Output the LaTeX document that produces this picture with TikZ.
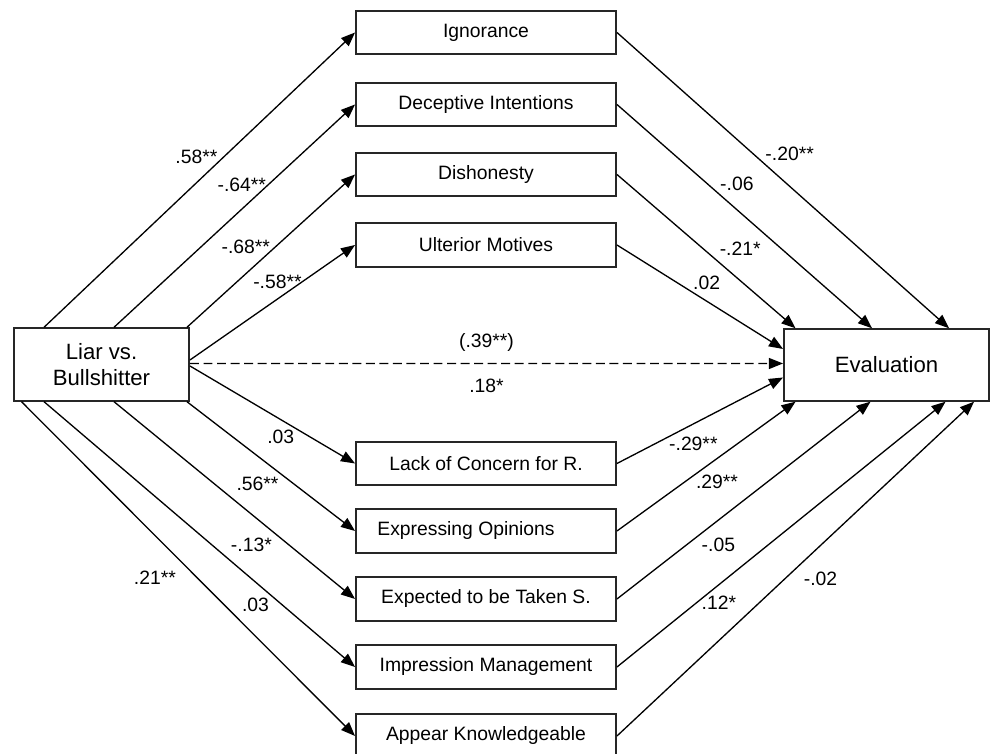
\documentclass[tikz,border=0pt]{standalone}
\usepackage{fontspec}
\setmainfont{Liberation Sans}
\usetikzlibrary{arrows.meta, positioning, calc}

\tikzset{
  var/.style={draw=black!85, line width=1.1pt, minimum width=5.2cm, minimum height=0.87cm, inner sep=2pt},
  endvar/.style={var, font=\fontsize{12.6}{14.6}\selectfont},
  effect/.style={draw=black, line width=0.75pt, -{Triangle[length=8pt,width=6.2pt]}},
  coef/.style={inner sep=0pt}
}

\begin{document}
\begin{tikzpicture}[font=\fontsize{11}{14.6}\selectfont]
  \useasboundingbox (0,0) rectangle (19.8,15.08);

  \node[endvar, minimum width=3.5cm, minimum height=1.45cm, align=center] (liar) at (2.03,7.79) {Liar vs.\\Bullshitter};
  \node[endvar, minimum width=4.1cm, minimum height=1.43cm] (eval) at (17.73,7.78) {Evaluation};

  \node[var] (ign)  at (9.72,14.43) {Ignorance};
  \node[var] (dec)  at (9.72,12.99) {Deceptive Intentions};
  \node[var] (dis)  at (9.72,11.59) {Dishonesty};
  \node[var] (ult)  at (9.72,10.18) {Ulterior Motives};
  \node[var] (lack) at (9.72,5.81) {Lack of Concern for R.};
  \node[var] (expr) at (9.72,4.46) {Expressing Opinions\hspace*{0.8cm}};
  \node[var] (expt) at (9.72,3.10) {Expected to be Taken S.};
  \node[var] (impr) at (9.72,1.74) {Impression Management};
  \node[var] (appr) at (9.72,0.36) {Appear Knowledgeable};

  % a paths
  \draw[effect] ([xshift=0.62cm]liar.north west) -- node[coef, pos=.49, above=10.5pt] {.58**} (ign.west);
  \draw[effect] ([xshift=2.02cm]liar.north west) -- node[coef, pos=.53, above=9.5pt] {-.64**} (dec.west);
  \draw[effect] ([xshift=-0.06cm]liar.north east) -- node[coef, pos=.35, above=11pt] {-.68**} (dis.west);
  \draw[effect] ([yshift=0.09cm]liar.east) -- node[coef, pos=.53, above=5.6pt] {-.58**} (ult.west);
  \draw[effect] ([yshift=-0.03cm]liar.east) -- node[coef, pos=.55, below=5.6pt] {.03} (lack.west);
  \draw[effect] ([xshift=-0.06cm]liar.south east) -- node[coef, pos=.42, below=11.3pt] {.56**} (expr.west);
  \draw[effect] ([xshift=2.02cm]liar.south west) -- node[coef, pos=.57, below=13pt] {-.13*} (expt.west);
  \draw[effect] ([xshift=0.62cm]liar.south west) -- node[coef, pos=.68, below=8.5pt] {.03} (impr.west);
  \draw[effect] ([xshift=0.17cm]liar.south west) -- node[coef, pos=.40, below=19.7pt] {.21**} (appr.west);

  % direct path
  \draw[effect, dash pattern=on 5.1pt off 2.6pt] ([yshift=0.02cm]liar.east) -- node[coef, pos=.5, above=6.6pt] {(.39**)} node[coef, pos=.5, below=8.3pt] {.18*} ([yshift=0.03cm]eval.west);

  % b paths
  \draw[effect] (ign.east) -- node[coef, pos=.52, above=14.2pt] {-.20**} ([xshift=3.32cm]eval.north west);
  \draw[effect] (dec.east) -- node[coef, pos=.47, above=10.5pt] {-.06} ([xshift=1.78cm]eval.north west);
  \draw[effect] (dis.east) -- node[coef, pos=.69, above=13.7pt] {-.21*} ([xshift=0.25cm]eval.north west);
  \draw[effect] (ult.east) -- node[coef, pos=.54, above=6.2pt] {.02} ([yshift=0.32cm]eval.west);
  \draw[effect] (lack.east) -- node[coef, pos=.46, below=6.8pt] {-.29**} ([yshift=-0.25cm]eval.west);
  \draw[effect] (expr.east) -- node[coef, pos=.56, below=9.1pt] {.29**} ([xshift=0.25cm]eval.south west);
  \draw[effect] (expt.east) -- node[coef, pos=.40, below=9.8pt] {-.05} ([xshift=1.75cm]eval.south west);
  \draw[effect] (impr.east) -- node[coef, pos=.31, below=5.8pt] {.12*} ([xshift=3.25cm]eval.south west);
  \draw[effect] (appr.east) -- node[coef, pos=.57, below=15pt] {-.02} ([xshift=3.82cm]eval.south west);
\end{tikzpicture}
\end{document}
